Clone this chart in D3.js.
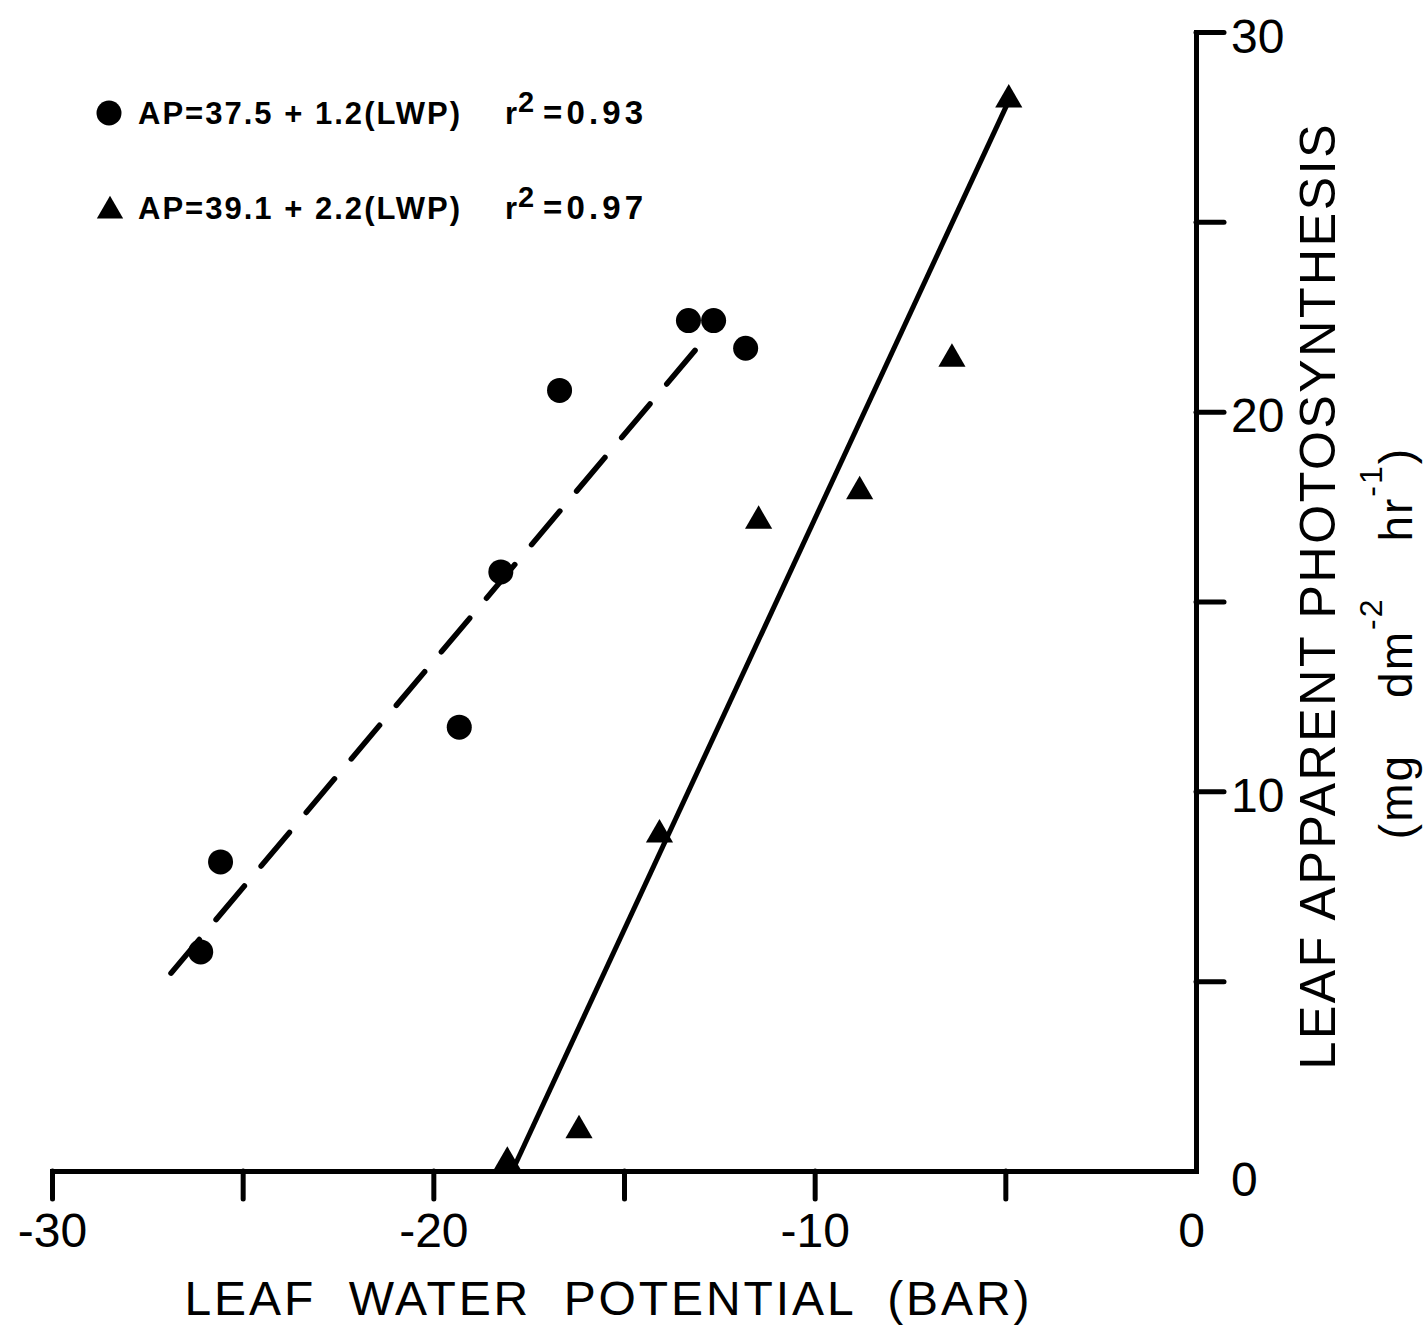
<!DOCTYPE html>
<html><head><meta charset="utf-8">
<script src="https://cdn.jsdelivr.net/npm/d3@7"></script>
<style>
body{margin:0;background:#fff}
svg{display:block;background:#fff}
text{font-family:"Liberation Sans",Arial,sans-serif;fill:#000}
</style>
</head><body>
<svg id="c" width="1427" height="1326"></svg>
<script>
// ---- data ----
const circleLWP = [-26.10, -25.58, -19.32, -18.23, -16.69, -13.31, -12.65, -11.81];
const circleAP  = [5.77, 8.14, 11.69, 15.78, 20.56, 22.40, 22.40, 21.67];
const triangleLWP = [-18.06, -16.18, -14.07, -11.47, -8.82, -6.40, -4.91];
const triangleAP  = [0.24, 1.07, 8.86, 17.12, 17.90, 21.39, 28.22];
const dashedFitLWP = [-26.88, -12.73];
const dashedFitAP  = [5.21, 22.10];
const solidFitLWP = [-17.93, -4.95];
const solidFitAP  = [0, 28.1];
const xTicks = [-30, -25, -20, -15, -10, -5, 0];
const xTickLabels = ["-30", "", "-20", "", "-10", "", "0"];
const yTicks = [0, 5, 10, 15, 20, 25, 30];
const yTickLabels = ["0", "", "10", "", "20", "", "30"];
const legendEquations = ["AP=37.5 + 1.2(LWP)", "AP=39.1 + 2.2(LWP)"];
const legendR2 = ["=0.93", "=0.97"];
const xTitle = "LEAF  WATER  POTENTIAL  (BAR)";
const yTitle = "LEAF APPARENT PHOTOSYNTHESIS";

// ---- drawing ----
const svg = d3.select("#c");
const x = d3.scaleLinear().domain([-30, 0]).range([52, 1196]);
const y = d3.scaleLinear().domain([0, 30]).range([1171, 32]);

const gx = svg.append("g")
  .attr("transform", `translate(0,${y(0)})`)
  .call(d3.axisBottom(x).tickValues(xTicks).tickSize(28).tickSizeOuter(0).tickPadding(14)
        .tickFormat((d, i) => xTickLabels[i]));
gx.attr("font-size", 48).attr("font-family", null);
gx.select(".domain").attr("stroke-width", 5).attr("stroke-linecap", "square");
gx.selectAll(".tick line").attr("stroke-width", 5).attr("stroke-linecap", "round");
gx.selectAll(".tick").filter(d => d === 0).select("line").remove();
gx.selectAll(".tick").filter(d => d === 0).select("text").attr("dx", "-0.1em");

const gy = svg.append("g")
  .attr("transform", `translate(${x(0)},0)`)
  .call(d3.axisRight(y).tickValues(yTicks).tickSize(28).tickSizeOuter(0).tickPadding(7)
        .tickFormat((d, i) => yTickLabels[i]));
gy.attr("font-size", 48).attr("font-family", null);
gy.select(".domain").attr("stroke-width", 5).attr("stroke-linecap", "square");
gy.selectAll(".tick line").attr("stroke-width", 5).attr("stroke-linecap", "round");
gy.selectAll(".tick").filter(d => d === 0).select("line").remove();
gy.selectAll(".tick text").attr("dy", "0.42em");
gy.selectAll(".tick").filter(d => d === 0).select("text").attr("dy", "0.5em");

// regression lines
const line = d3.line().x(d => x(d[0])).y(d => y(d[1]));
svg.append("path")
  .attr("d", line(d3.zip(dashedFitLWP, dashedFitAP)))
  .attr("fill", "none").attr("stroke", "#000").attr("stroke-width", 5.5)
  .attr("stroke-linecap", "round").attr("stroke-dasharray", "44,26");
svg.append("path")
  .attr("d", line(d3.zip(solidFitLWP, solidFitAP)))
  .attr("fill", "none").attr("stroke", "#000").attr("stroke-width", 5);

// points
svg.append("g").selectAll("circle")
  .data(d3.zip(circleLWP, circleAP)).join("circle")
  .attr("cx", d => x(d[0])).attr("cy", d => y(d[1])).attr("r", 12.5).attr("fill", "#000");
const tri = d3.symbol().type(d3.symbolTriangle).size(320);
svg.append("g").selectAll("path")
  .data(d3.zip(triangleLWP, triangleAP)).join("path")
  .attr("d", tri).attr("transform", d => `translate(${x(d[0])},${y(d[1])})`).attr("fill", "#000");

// legend
const lg = svg.append("g");
const rows = [{base: 124, mark: "circle"}, {base: 219, mark: "triangle"}];
rows.forEach((r, i) => {
  if (r.mark === "circle") {
    lg.append("circle").attr("cx", 109).attr("cy", r.base - 11).attr("r", 12.5).attr("fill", "#000");
  } else {
    lg.append("path").attr("d", d3.symbol().type(d3.symbolTriangle).size(300)())
      .attr("transform", `translate(110,${r.base - 8})`).attr("fill", "#000");
  }
  lg.append("text").attr("x", 138).attr("y", r.base).attr("font-size", 31).attr("font-weight", "bold")
    .attr("textLength", 322).attr("lengthAdjust", "spacing").text(legendEquations[i]);
  lg.append("text").attr("x", 505).attr("y", r.base).attr("font-size", 31).attr("font-weight", "bold").text("r");
  lg.append("text").attr("x", 518).attr("y", r.base - 12).attr("font-size", 29).attr("font-weight", "bold").text("2");
  lg.append("text").attr("x", 543).attr("y", r.base).attr("font-size", 33).attr("font-weight", "bold")
    .attr("textLength", 100).attr("lengthAdjust", "spacing").text(legendR2[i]);
});

// axis titles
svg.append("text").attr("x", 607).attr("y", 1315).attr("text-anchor", "middle")
  .attr("font-size", 48).style("white-space", "pre")
  .attr("textLength", 845).attr("lengthAdjust", "spacing").text(xTitle);

svg.append("text").attr("transform", "translate(1335,597) rotate(-90)")
  .attr("text-anchor", "middle").attr("font-size", 50)
  .attr("textLength", 945).attr("lengthAdjust", "spacing").text(yTitle);

const t2 = svg.append("text").attr("transform", "translate(1412,643) rotate(-90)")
  .attr("text-anchor", "middle").attr("font-size", 46).attr("letter-spacing", 2);
t2.append("tspan").text("(mg");
t2.append("tspan").attr("dx", 56).text("dm");
t2.append("tspan").attr("dy", -30).attr("font-size", 32).text("-2");
t2.append("tspan").attr("dy", 30).attr("dx", 56).text("hr");
t2.append("tspan").attr("dy", -30).attr("font-size", 32).text("-1");
t2.append("tspan").attr("dy", 30).text(")");
</script>
</body></html>
